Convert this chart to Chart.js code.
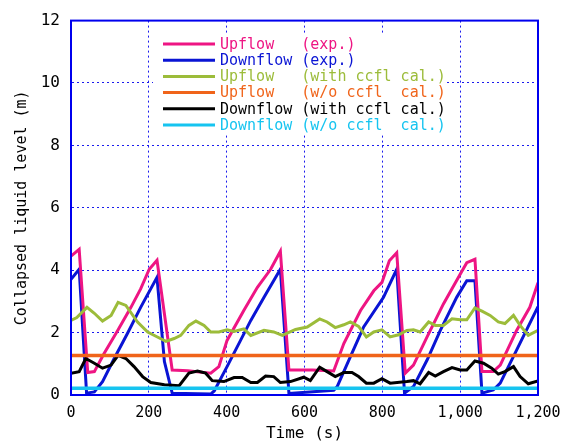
<!DOCTYPE html>
<html>
<head>
<meta charset="utf-8">
<script src="https://cdn.jsdelivr.net/npm/chart.js@4/dist/chart.umd.min.js"></script>
<style>
  body { margin: 0; background: #fff; }
</style>
</head>
<body>
<canvas id="levelChart" width="565" height="446"></canvas>
<script>
// Upflow (exp.)
const upExpT = [0, 21, 43, 60, 85, 120, 154, 179, 201, 221, 260, 300, 359, 380, 401, 444, 479, 513, 538, 560, 620, 675, 701, 744, 778, 799, 818, 837, 859, 880, 915, 957, 1000, 1017, 1038, 1056, 1085, 1103, 1145, 1179, 1200];
const upExpV = [4.45, 4.67, 0.72, 0.75, 1.33, 2.07, 2.81, 3.4, 4.03, 4.32, 0.8, 0.78, 0.7, 0.91, 1.75, 2.71, 3.45, 4.03, 4.61, 0.8, 0.8, 0.77, 1.65, 2.71, 3.34, 3.61, 4.3, 4.56, 0.7, 0.96, 1.86, 2.92, 3.87, 4.24, 4.35, 0.75, 0.75, 0.96, 2.07, 2.81, 3.6];

// Downflow (exp.)
const downExpT = [0, 21, 40, 60, 81, 111, 145, 179, 221, 240, 260, 359, 368, 401, 462, 496, 538, 560, 675, 684, 718, 752, 803, 837, 857, 880, 915, 949, 991, 1017, 1038, 1056, 1085, 1103, 1145, 1200];
const downExpV = [3.71, 4.03, 0.06, 0.1, 0.43, 1.17, 1.97, 2.81, 3.77, 1.07, 0.06, 0.03, 0.13, 0.91, 2.39, 3.13, 4.03, 0.05, 0.15, 0.27, 1.23, 2.18, 3.13, 4.03, 0.06, 0.27, 1.12, 2.07, 3.13, 3.66, 3.66, 0.06, 0.16, 0.38, 1.44, 2.83];

// Upflow (with ccfl cal.)
const upCalT = [0, 15, 41, 60, 81, 103, 121, 141, 171, 197, 222, 244, 265, 282, 303, 321, 342, 359, 380, 401, 419, 444, 462, 496, 521, 543, 577, 607, 639, 658, 679, 701, 718, 739, 759, 778, 799, 820, 842, 863, 880, 897, 919, 936, 957, 979, 1000, 1017, 1038, 1056, 1077, 1098, 1115, 1137, 1154, 1175, 1200];
const upCalV = [2.39, 2.48, 2.81, 2.62, 2.37, 2.55, 2.97, 2.87, 2.34, 2.02, 1.86, 1.72, 1.81, 1.91, 2.23, 2.37, 2.23, 2.02, 2.02, 2.09, 2.04, 2.12, 1.91, 2.07, 2.02, 1.91, 2.1, 2.18, 2.44, 2.34, 2.16, 2.25, 2.34, 2.2, 1.86, 2.02, 2.09, 1.86, 1.93, 2.07, 2.09, 2.02, 2.34, 2.23, 2.23, 2.44, 2.41, 2.41, 2.79, 2.69, 2.55, 2.34, 2.29, 2.55, 2.23, 1.91, 2.07];

// Upflow (w/o ccfl cal.)
const upNoCalT = [0, 1200];
const upNoCalV = [1.27, 1.27];

// Downflow (with ccfl cal.)
const downCalT = [0, 21, 38, 60, 81, 103, 121, 141, 162, 184, 205, 240, 278, 303, 325, 346, 363, 393, 419, 440, 462, 479, 500, 521, 538, 564, 598, 615, 639, 658, 679, 701, 722, 739, 759, 778, 799, 820, 863, 880, 897, 919, 936, 957, 979, 1000, 1017, 1038, 1060, 1081, 1098, 1115, 1137, 1154, 1175, 1200];
const downCalV = [0.7, 0.75, 1.17, 1.02, 0.86, 0.96, 1.27, 1.17, 0.91, 0.59, 0.4, 0.33, 0.3, 0.7, 0.77, 0.7, 0.46, 0.43, 0.56, 0.56, 0.4, 0.4, 0.61, 0.59, 0.4, 0.43, 0.57, 0.46, 0.89, 0.75, 0.59, 0.72, 0.72, 0.59, 0.38, 0.38, 0.52, 0.38, 0.43, 0.46, 0.36, 0.72, 0.61, 0.75, 0.88, 0.8, 0.8, 1.09, 1.02, 0.86, 0.67, 0.75, 0.91, 0.59, 0.36, 0.45];

// Downflow (w/o ccfl cal.)
const downNoCalT = [0, 1200];
const downNoCalV = [0.22, 0.22];

const labels = [
  "Upflow   (exp.)",
  "Downflow (exp.)",
  "Upflow   (with ccfl cal.)",
  "Upflow   (w/o ccfl  cal.)",
  "Downflow (with ccfl cal.)",
  "Downflow (w/o ccfl  cal.)"
];
const colors = ["#ee1583", "#0a14d4", "#9cbc3a", "#f0641a", "#000000", "#16c4f0"];

const xTicks = { min: 0, max: 1200, step: 200 };
const yTicks = { min: 0, max: 12, step: 2 };

const toPoints = (ts, vs) => ts.map((t, i) => ({ x: t, y: vs[i] }));

const series = [
  [upExpT, upExpV],
  [downExpT, downExpV],
  [upCalT, upCalV],
  [upNoCalT, upNoCalV],
  [downCalT, downCalV],
  [downNoCalT, downNoCalV]
];

const FONT = "'DejaVu Sans Mono', monospace";

// draw order: orange / cyan under the others like the original
const order = [3, 5, 2, 4, 0, 1];

// solid blue frame around plot area
const framePlugin = {
  id: "frame",
  afterDraw(chart) {
    const { ctx, chartArea: a } = chart;
    ctx.save();
    ctx.strokeStyle = "#0000ee";
    ctx.lineWidth = 2;
    ctx.strokeRect(a.left, a.top, a.right - a.left, a.bottom - a.top);
    ctx.restore();
  }
};

// legend inside the plot, coloured text
const legendPlugin = {
  id: "innerLegend",
  afterDatasetsDraw(chart) {
    const ctx = chart.ctx;
    const x0 = 163, y0 = 44, rowH = 16.2;
    ctx.save();
    ctx.fillStyle = "#fff";
    ctx.fillRect(153, 35, 292, 99);
    ctx.font = "15px " + FONT;
    ctx.textBaseline = "middle";
    labels.forEach((lab, i) => {
      const y = y0 + i * rowH;
      ctx.strokeStyle = colors[i];
      ctx.lineWidth = 3;
      ctx.beginPath();
      ctx.moveTo(x0, y);
      ctx.lineTo(x0 + 52, y);
      ctx.stroke();
      ctx.fillStyle = colors[i];
      ctx.fillText(lab, x0 + 57, y + 1);
    });
    ctx.restore();
  }
};

new Chart(document.getElementById("levelChart"), {
  type: "line",
  data: {
    datasets: order.map(i => ({
      label: labels[i],
      data: toPoints(series[i][0], series[i][1]),
      borderColor: colors[i],
      backgroundColor: colors[i],
      borderWidth: (i === 3 || i === 5) ? 3.5 : 3,
      pointRadius: 0,
      tension: 0,
      fill: false
    }))
  },
  options: {
    responsive: false,
    animation: false,
    devicePixelRatio: 1,
    layout: { padding: { left: 0, top: 18, right: 27, bottom: 0 } },
    plugins: {
      legend: { display: false },
      tooltip: { enabled: false }
    },
    scales: {
      x: {
        type: "linear",
        min: xTicks.min,
        max: xTicks.max,
        afterFit: s => { s.height = 51; s.paddingLeft = 0; s.paddingRight = 0; },
        ticks: {
          stepSize: xTicks.step,
          color: "#000",
          font: { family: FONT, size: 15 },
          padding: 9,
          maxRotation: 0,
          callback: v => v.toLocaleString("en-US")
        },
        grid: { color: "#1a1aee", lineWidth: 1, drawTicks: false },
        border: { display: true, color: "#0000ee", width: 2, dash: [2, 3] },
        title: {
          display: true,
          text: "Time (s)",
          color: "#000",
          font: { family: FONT, size: 16 },
          padding: { top: 0, bottom: 3 }
        }
      },
      y: {
        min: yTicks.min,
        max: yTicks.max,
        afterFit: s => { s.width = 71; },
        ticks: {
          stepSize: yTicks.step,
          color: "#000",
          font: { family: FONT, size: 16 },
          padding: 11
        },
        grid: { color: "#1a1aee", lineWidth: 1, drawTicks: false },
        border: { display: true, color: "#0000ee", width: 2, dash: [2, 3] },
        title: {
          display: true,
          text: "Collapsed liquid level (m)",
          color: "#000",
          font: { family: FONT, size: 15 },
          padding: { top: 13, bottom: 0 }
        }
      }
    }
  },
  plugins: [framePlugin, legendPlugin]
});
</script>
</body>
</html>
